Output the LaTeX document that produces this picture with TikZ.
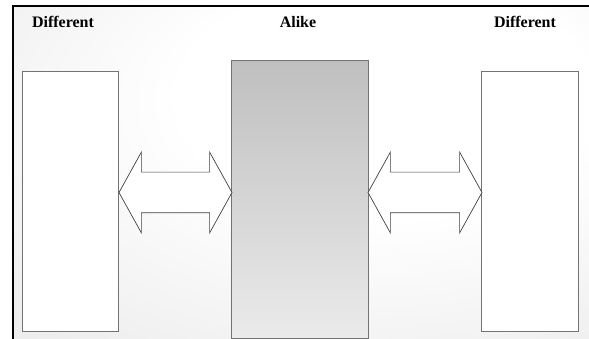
\documentclass[tikz,border=0pt]{standalone}
\usepackage{fontspec}
\setmainfont{Liberation Serif}
\usetikzlibrary{shapes.arrows}
\pgfdeclareradialshading{bgglow}{\pgfpoint{10bp}{15bp}}{color(0bp)=(white); color(18bp)=(white); color(38bp)=(black!6); color(58bp)=(black!11); color(72bp)=(black!14)}
\tikzset{
  sidebox/.style={draw=black!55, line width=1pt, fill=white, minimum width=96, minimum height=259, inner sep=0pt},
  alikebox/.style={draw=black!55, line width=1pt, top color=black!25, bottom color=black!8, minimum width=137, minimum height=277, inner sep=0pt},
  twoway/.style={double arrow, draw=black!75, line width=0.7pt, fill=white, inner sep=0pt, text height=20, text depth=20, minimum height=113, double arrow head extend=20, double arrow tip angle=122},
  heading/.style={font=\fontsize{16}{18}\selectfont\bfseries}
}
\begin{document}
\begin{tikzpicture}[x=1pt,y=-1pt]
	\useasboundingbox (0,0) rectangle (589,339);
	\shade[shading=bgglow] (13,6) rectangle (589,339);
	\draw[line width=2pt] (13,339) -- (13,6) -- (589,6);
	\node[heading] (diffl) at (63,22) {Different};
	\node[heading] (alike) at (298,22) {Alike};
	\node[heading] (diffr) at (525,22) {Different};
	\node[sidebox] (boxl) at (70,201.5) {};
	\node[alikebox] (boxm) at (299.5,199.5) {};
	\node[sidebox, minimum width=97] (boxr) at (529.5,201.5) {};
	\node[twoway] (arrl) at (175.5,192.5) {};
	\node[twoway, minimum height=114] (arrr) at (425,192.5) {};
\end{tikzpicture}
\end{document}
